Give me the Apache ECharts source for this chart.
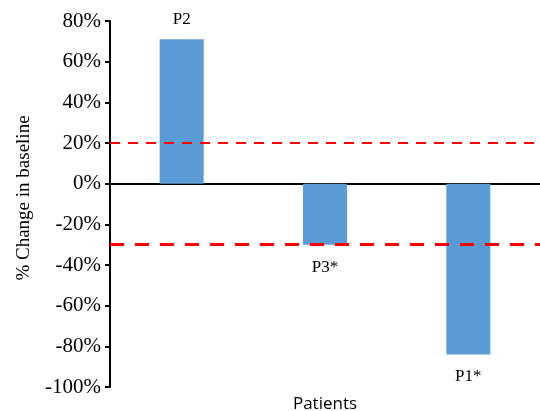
<!DOCTYPE html>
<html>
<head>
<meta charset="utf-8">
<script src="https://cdn.jsdelivr.net/npm/echarts@6/dist/echarts.min.js"></script>
<style>html,body{margin:0;padding:0;background:#fff}#c{width:540px;height:411px}</style>
</head>
<body>
<div id="c"></div>
<script>
const categories = ["P2", "P3*", "P1*"];
const values = [71, -30, -84];
const thresholds = [20, -30];
const yTicks = { min: -100, max: 80, interval: 20 };

const chart = echarts.init(document.getElementById('c'), null, { renderer: 'canvas' });
const serif = 'Liberation Serif';

chart.setOption({
  animation: false,
  grid: { left: 110, right: 0, top: 21, bottom: 24, containLabel: false, outerBoundsMode: 'none' },
  xAxis: [
    {
      type: 'category', data: categories,
      axisLine: { onZero: true, lineStyle: { color: '#000', width: 2 } },
      axisTick: { show: false }, axisLabel: { show: false }, splitLine: { show: false }
    },
    {
      type: 'category', data: categories, position: 'bottom',
      axisLine: { show: false }, axisTick: { show: false }, axisLabel: { show: false },
      name: 'Patients', nameLocation: 'middle', nameGap: 9,
      nameTextStyle: { fontFamily: 'Open Sans', fontSize: 17, color: '#000', verticalAlign: 'top' }
    }
  ],
  yAxis: {
    type: 'value', min: yTicks.min, max: yTicks.max, interval: yTicks.interval,
    axisLine: { show: true, onZero: false, lineStyle: { color: '#000', width: 2 } },
    axisTick: { show: true, length: 5, lineStyle: { color: '#000', width: 2 } },
    axisLabel: { formatter: '{value}%', fontFamily: serif, fontSize: 21, color: '#000', margin: 9 },
    splitLine: { show: false },
    name: '% Change in baseline', nameLocation: 'middle', nameGap: 76, nameRotate: 90,
    nameTextStyle: { fontFamily: serif, fontSize: 19, color: '#000', padding: [0, 0, 0, 12] }
  },
  series: [{
    type: 'bar', data: values.map((v) => ({
      value: v,
      label: { position: v >= 0 ? 'top' : 'bottom', distance: v >= 0 ? 11 : 14 }
    })),
    barWidth: '30.7%',
    itemStyle: { color: '#5B9BD5' },
    label: { show: true, formatter: (p) => p.name, fontFamily: serif, fontSize: 17, color: '#000' },
    markLine: {
      silent: true, symbol: 'none', label: { show: false },
      data: [
        { yAxis: thresholds[0], lineStyle: { color: '#FF0000', width: 2, type: [10, 8] } },
        { yAxis: thresholds[1], lineStyle: { color: '#FF0000', width: 3, type: [14, 11] } }
      ]
    }
  }]
});
</script>
</body>
</html>
